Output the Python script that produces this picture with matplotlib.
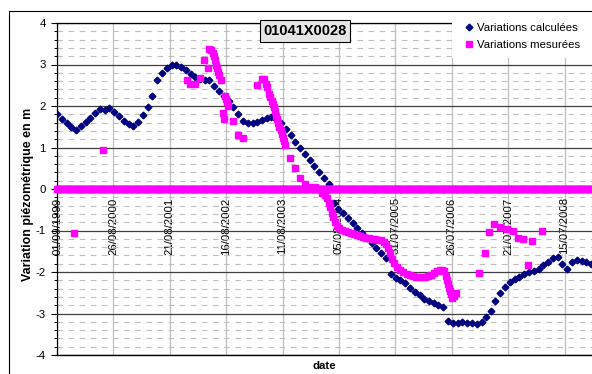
import numpy as np
import pandas as pd
import matplotlib
matplotlib.use("Agg")
import matplotlib.pyplot as plt
from matplotlib.patches import Rectangle
from matplotlib.ticker import MultipleLocator

plt.rcParams['font.family'] = ['Liberation Sans', 'DejaVu Sans']
plt.rcParams['axes.unicode_minus'] = False

# variations calculees : une valeur par mois
calc_dates = pd.date_range("1999-09-01", periods=113, freq="MS")
calc_vals = [1.80, 1.69, 1.58, 1.50, 1.42, 1.51, 1.61, 1.71, 1.82, 1.92,
             1.90, 1.95, 1.85, 1.76, 1.65, 1.56, 1.52, 1.62, 1.78, 1.98,
             2.25, 2.62, 2.80, 2.92, 2.99, 3.00, 2.93, 2.86, 2.78, 2.71,
             2.66, 2.62, 2.62, 2.47, 2.35, 2.23, 2.11, 1.98, 1.80, 1.63,
             1.58, 1.59, 1.62, 1.66, 1.70, 1.74, 1.68, 1.58, 1.45, 1.29,
             1.14, 0.99, 0.85, 0.70, 0.55, 0.40, 0.26, 0.11, -0.33, -0.47,
             -0.59, -0.71, -0.83, -0.95, -1.07, -1.19, -1.31, -1.43, -1.54, -1.66,
             -2.06, -2.15, -2.20, -2.27, -2.38, -2.48, -2.56, -2.64, -2.70, -2.75,
             -2.79, -2.84, -3.18, -3.23, -3.22, -3.21, -3.22, -3.24, -3.26, -3.20,
             -3.08, -2.93, -2.70, -2.50, -2.36, -2.25, -2.17, -2.12, -2.06, -2.01,
             -1.97, -1.92, -1.84, -1.76, -1.66, -1.63, -1.80, -1.92, -1.77, -1.72,
             -1.73, -1.77, -1.81]

# variations mesurees (hors valeurs nulles)
mes_dates = ["1999-12-18", "2000-06-20",
             "2001-12-09", "2001-12-28", "2002-01-29", "2002-03-02", "2002-03-27",
             "2002-04-21", "2002-04-28", "2002-05-11", "2002-05-24", "2002-05-30",
             "2002-06-05", "2002-06-12", "2002-06-18", "2002-06-24", "2002-07-01",
             "2002-07-14", "2002-07-27", "2002-08-02", "2002-08-08", "2002-08-14",
             "2002-08-21", "2002-08-27", "2002-09-28", "2002-10-30", "2002-12-01",
             "2003-02-28", "2003-04-01", "2003-04-14", "2003-04-27", "2003-05-03",
             "2003-05-16", "2003-05-22", "2003-06-04", "2003-06-10", "2003-06-17",
             "2003-06-23", "2003-06-30", "2003-07-06", "2003-07-12", "2003-07-19",
             "2003-07-31", "2003-08-07", "2003-08-13", "2003-08-20", "2003-08-26",
             "2003-09-27", "2003-10-29", "2003-11-30", "2004-01-01", "2004-02-02",
             "2004-03-05",
             "2004-04-18", "2004-05-08", "2004-05-20", "2004-06-02", "2004-06-08",
             "2004-06-21", "2004-06-27", "2004-07-10", "2004-07-23", "2004-08-05",
             "2004-08-24", "2004-09-12", "2004-10-01", "2004-10-20", "2004-11-08",
             "2004-11-28", "2004-12-17", "2005-01-05", "2005-01-24", "2005-02-12",
             "2005-03-04", "2005-03-23", "2005-04-11", "2005-04-30", "2005-05-19",
             "2005-06-01", "2005-06-13", "2005-06-26", "2005-07-09", "2005-07-22",
             "2005-08-10", "2005-08-29", "2005-09-17", "2005-10-13", "2005-11-01",
             "2005-11-20", "2005-12-09", "2005-12-28", "2006-01-16", "2006-02-05",
             "2006-02-24", "2006-03-15", "2006-04-03", "2006-04-22", "2006-05-11",
             "2006-05-24", "2006-06-06", "2006-06-19", "2006-06-25", "2006-07-01",
             "2006-07-08", "2006-07-14", "2006-07-21", "2006-07-27", "2006-08-09",
             "2006-08-22",
             "2007-01-15", "2007-02-23", "2007-03-20", "2007-04-21", "2007-05-30",
             "2007-07-13", "2007-08-20", "2007-09-21", "2007-10-23", "2007-11-24",
             "2007-12-20", "2008-02-22"]
mes_vals = [-1.06, 0.93,
            2.62, 2.54, 2.54, 2.68, 3.10,
            2.92, 3.38, 3.35, 3.28, 3.20,
            3.10, 3.00, 2.92, 2.82, 2.75,
            2.63, 1.82, 1.68, 2.25, 2.18,
            2.10, 2.00, 1.65, 1.31, 1.23,
            2.50, 2.65, 2.65, 2.52, 2.45,
            2.30, 2.22, 2.13, 2.05, 1.97,
            1.87, 1.77, 1.68, 1.58, 1.50,
            1.41, 1.33, 1.24, 1.15, 1.06,
            0.75, 0.50, 0.26, 0.12, 0.06,
            0.04,
            -0.10, -0.15, -0.22, -0.33, -0.43,
            -0.57, -0.68, -0.80, -0.88, -0.95,
            -0.99, -1.02, -1.04, -1.07, -1.09,
            -1.11, -1.13, -1.15, -1.17, -1.18,
            -1.20, -1.21, -1.22, -1.24, -1.27,
            -1.33, -1.42, -1.55, -1.68, -1.78,
            -1.88, -1.95, -2.00, -2.04, -2.07,
            -2.09, -2.11, -2.12, -2.12, -2.12,
            -2.10, -2.07, -2.03, -1.98, -1.95,
            -1.94, -1.98, -2.10, -2.20, -2.30,
            -2.38, -2.46, -2.54, -2.62, -2.58,
            -2.50,
            -2.03, -1.55, -1.04, -0.85, -0.92,
            -0.96, -1.01, -1.19, -1.21, -1.84,
            -1.26, -1.02]

# mesures nulles, relevees chaque semaine
zero_dates = pd.date_range("1999-09-01", "2009-01-06", freq="7D")
zero_vals = np.zeros(len(zero_dates))

tick_labels = ["01/09/1999", "26/08/2000", "21/08/2001", "16/08/2002", "11/08/2003",
               "05/08/2004", "31/07/2005", "26/07/2006", "21/07/2007", "15/07/2008"]
tick_dates = pd.to_datetime(tick_labels, format="%d/%m/%Y")

W, H = 592, 374
fig = plt.figure(figsize=(W / 100, H / 100), dpi=100)
ax = fig.add_axes([57 / W, 1 - 355 / H, 1 - 57 / W, (355 - 23) / H])

navy = "#000080"
pink = "#FF00FF"

ax.plot(calc_dates, calc_vals, linestyle="none", marker="D", markersize=3.4,
        color=navy, zorder=3, label="Variations calculées")
ax.plot(pd.to_datetime(mes_dates), mes_vals, linestyle="none", marker="s",
        markersize=3.7, color=pink, zorder=4, label="Variations mesurées")
ax.plot(zero_dates, zero_vals, linestyle="none", marker="s", markersize=4.6,
        color=pink, zorder=4, clip_on=False)

ax.set_xlim(pd.Timestamp("1999-09-01"), pd.Timestamp("2009-01-06"))
ax.set_ylim(-4, 4)

ax.spines["right"].set_visible(False)
ax.spines["bottom"].set_position(("data", 0))
for s in ("left", "top", "bottom"):
    ax.spines[s].set_color("black")
    ax.spines[s].set_linewidth(0.9)
ax.axhline(-4, color="black", lw=1.0, clip_on=False, zorder=2.6)

ax.yaxis.set_major_locator(MultipleLocator(1))
ax.yaxis.set_minor_locator(MultipleLocator(0.2))
ax.set_xticks(tick_dates)
ax.set_xticklabels(tick_labels, fontsize=8.2)

ax.grid(axis="y", which="major", color="#404040", lw=0.9)
ax.grid(axis="y", which="minor", color="#BFBFBF", lw=0.8, linestyle=(0, (5, 5)))
ax.grid(axis="x", which="major", color="#BFBFBF", lw=0.9)

ax.tick_params(axis="x", length=0, pad=6, labelrotation=90)
ax.tick_params(axis="y", which="major", direction="out", length=4, width=0.8,
               labelsize=8.2, pad=4)
ax.tick_params(axis="y", which="minor", direction="out", length=2, width=0.7)

ax.set_ylabel("Variation piézométrique en m", fontsize=8.9, fontweight="bold")
ax.yaxis.set_label_coords(-0.043, 0.485)
ax.set_xlabel("date", fontsize=8.2, fontweight="bold")
ax.xaxis.set_label_coords(0.5, -0.018)

# fond blanc de la legende
fig.add_artist(Rectangle((452 / W, 1 - 58 / H), (W - 452) / W, 44 / H,
                         transform=fig.transFigure, facecolor="white",
                         edgecolor="none", zorder=1))
handles, labels = ax.get_legend_handles_labels()
fig.legend(handles, labels, loc="upper left", bbox_to_anchor=(463 / W, 1 - 23 / H),
           frameon=False, fontsize=8.2, handlelength=1.0, handletextpad=0.2,
           borderpad=0, borderaxespad=0, labelspacing=0.6)

fig.text(305 / W, 1 - 31 / H, "01041X0028", ha="center", va="center",
         fontsize=10.5, fontweight="bold", zorder=3,
         bbox=dict(boxstyle="square,pad=0.25", facecolor="#E6E6E6",
                   edgecolor="black", lw=0.8))

# cadre du graphique
fig.add_artist(Rectangle((9 / W, -0.1), 1.2, 1 - 11 / H + 0.1,
                         transform=fig.transFigure, fill=False,
                         edgecolor="black", lw=0.8, zorder=2))

fig.savefig("out.png", dpi=100)
